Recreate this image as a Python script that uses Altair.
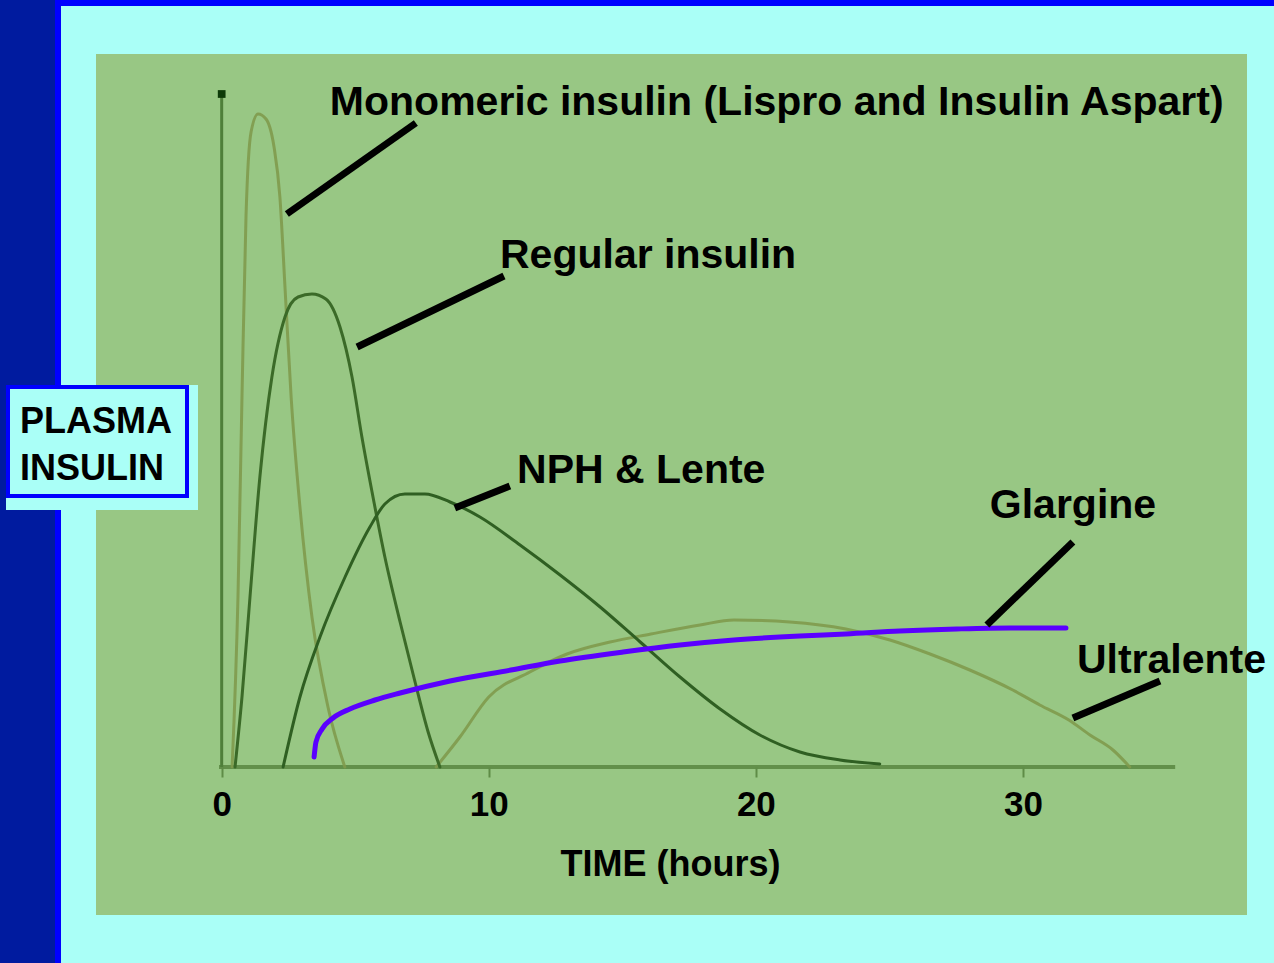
import altair as alt
import pandas as pd

FONT = "'Liberation Sans', Arial, sans-serif"

# ---- curve data: time (hours) and plasma insulin level (arbitrary units) ----
mono_hours = [0.39, 0.61, 0.76, 0.91, 1.10, 1.36, 1.66, 1.96, 2.18, 2.37, 2.60, 2.93, 3.38, 3.98, 4.61]
mono_level = [0, 170, 370, 550, 635, 653, 648, 620, 570, 480, 370, 260, 150, 60, 0]

regular_hours = [0.50, 0.76, 1.06, 1.43, 1.88, 2.37, 2.86, 3.38, 3.90, 4.43, 4.88, 5.25, 5.63,
                 6.11, 6.68, 7.24, 7.73, 8.17]
regular_level = [0, 70, 170, 290, 390, 450, 470, 473, 468, 440, 390, 330, 275, 210, 145, 85, 35, 0]

nph_hours = [2.30, 2.93, 3.68, 4.62, 5.55, 6.11, 6.86, 7.61, 8.55, 9.67, 11.17, 12.67, 14.17,
             15.67, 17.16, 18.66, 20.15, 21.65, 23.15, 24.64]
nph_level = [0, 70, 130, 190, 240, 263, 273, 273, 265, 250, 222, 192, 160, 125, 90, 58, 32, 15, 7, 3]

ultra_hours = [8.03, 8.92, 10.00, 11.54, 12.93, 14.54, 16.07, 17.91, 19.18, 21.27, 23.37, 25.02,
               26.52, 28.01, 29.62, 30.63, 31.72, 32.51, 33.37, 34.0]
ultra_level = [0, 30, 70, 95, 113, 125, 133, 142, 147, 145, 138, 127, 113, 97, 77, 62, 47, 32, 17, 0]

glargine_hours = [3.46, 3.53, 3.76, 4.17, 4.80, 5.74, 6.68, 8.55, 10.83, 12.67, 15.03, 17.16,
                  19.18, 21.65, 23.37, 25.39, 27.52, 29.52, 31.61]
glargine_level = [10, 25, 38, 49, 58, 67, 74, 86, 97, 106, 115, 122, 127, 131, 133, 136, 138, 139, 139]

# original graph's axes (time axis from 0 to ~35.7 h, level axis from 0 to ~673)
axis_hours = [-0.1, 35.7]
axis_level = [0, 673]
tick_values = [0, 10, 20, 30]

# annotations
label_text = ["Monomeric insulin (Lispro and Insulin Aspart)", "Regular insulin",
              "NPH & Lente", "Glargine", "Ultralente"]
label_hours = [4.05, 10.42, 11.06, 28.76, 32.02]
label_level = [652, 499, 284, 249, 94]
ptr_hours1 = [2.44, 5.07, 8.73, 28.65, 31.87]
ptr_level1 = [553, 420, 259, 142, 49]
ptr_hours2 = [7.27, 10.57, 10.79, 31.87, 35.13]
ptr_level2 = [644, 491, 281, 225, 86]

ylabel_lines = ["PLASMA", "INSULIN"]

# ---- scales / encodings ----
xscale = alt.Scale(domain=[-8.3, 39.4], nice=False, zero=False)
yscale = alt.Scale(domain=[0, 767], nice=False, zero=False)
xaxis = alt.Axis(values=tick_values, domain=False, grid=False, ticks=True, tickSize=10,
                 tickColor="#5f8c47", tickWidth=2, labelFont=FONT, labelFontSize=35,
                 labelFontWeight="bold", labelColor="black", labelBaseline="alphabetic",
                 labelPadding=38, labelFlush=False, labelOverlap=False,
                 title="TIME (hours)", titleFont=FONT, titleFontSize=36, titleFontWeight="bold",
                 titleColor="black", titleX=670, titleY=108, titleBaseline="alphabetic",
                 titleAlign="center", titleAnchor="start", zindex=2)


def X(f):
    return alt.X(f, type="quantitative", scale=xscale, axis=xaxis)


def X2(f):
    return alt.X2(f)


def Y(f):
    return alt.Y(f, type="quantitative", scale=yscale, axis=None)


one = pd.DataFrame({"d": [0]})


def box(x0, x1, y0, y1, color, **kw):
    return alt.Chart(one).mark_rect(color=color, **kw).encode(
        x=alt.value(x0), x2=alt.value(x1), y=alt.value(y0), y2=alt.value(y1))


decor = [
    box(0, 55, 0, 963, "#001B9F"),
    box(55, 1274, 0, 6, "#0000FF"),
    box(55, 61, 0, 963, "#0000FF"),
    box(96, 1247, 54, 915, "#98C784"),
]


def curve(hours, level, color, width, opacity=1.0):
    df = pd.DataFrame({"h": hours, "v": level})
    return alt.Chart(df).mark_line(color=color, strokeWidth=width, interpolate="monotone",
                                   opacity=opacity, strokeCap="round").encode(x=X("h"), y=Y("v"))


base_df = pd.DataFrame({"h": axis_hours, "v": [0, 0]})
baseline = alt.Chart(base_df).mark_line(color="#62904a", strokeWidth=4).encode(x=X("h"), y=Y("v"))
yline_df = pd.DataFrame({"h": [0, 0], "v": axis_level})
yline = alt.Chart(yline_df).mark_line(color="#4f7f3a", strokeWidth=3).encode(x=X("h"), y=Y("v"))
ydot = alt.Chart(pd.DataFrame({"h": [0], "v": [axis_level[1]]})).mark_square(
    color="#0d3a08", size=60, opacity=1).encode(x=X("h"), y=Y("v"))

curves = [
    curve(mono_hours, mono_level, "#7f9a4c", 3, 0.9),
    curve(ultra_hours, ultra_level, "#7f9a4c", 3, 0.9),
    curve(regular_hours, regular_level, "#3b6a28", 3),
    curve(nph_hours, nph_level, "#2f5f22", 3),
    curve(glargine_hours, glargine_level, "#5A00FF", 5),
]

ptr_df = pd.DataFrame({"h1": ptr_hours1, "v1": ptr_level1, "h2": ptr_hours2, "v2": ptr_level2})
pointers = alt.Chart(ptr_df).mark_rule(color="black", strokeWidth=7).encode(
    x=X("h1"), y=Y("v1"), x2=X2("h2"), y2=alt.Y2("v2"))

lab_df = pd.DataFrame({"t": label_text, "h": label_hours, "v": label_level})
labels = alt.Chart(lab_df).mark_text(font=FONT, fontSize=41, fontWeight="bold", color="black",
                                     align="left", baseline="alphabetic").encode(
    x=X("h"), y=Y("v"), text="t:N")

ylab_box = [
    box(6, 198, 385, 510, "#AAFFF7"),
    box(8, 187, 387, 496, "#AAFFF7", stroke="#0000FF", strokeWidth=4),
]


def ylab(txt, ypix):
    return alt.Chart(pd.DataFrame({"t": [txt]})).mark_text(
        font=FONT, fontSize=36, fontWeight="bold", color="black", align="left",
        baseline="alphabetic").encode(x=alt.value(20), y=alt.value(ypix), text="t:N")


ylab_texts = [ylab(ylabel_lines[0], 433), ylab(ylabel_lines[1], 480)]

chart = alt.layer(
    *decor, baseline, yline, ydot, *curves, pointers, labels, *ylab_box, *ylab_texts
).properties(
    width=1274, height=767,
    padding={"left": 0, "top": 0, "right": 0, "bottom": 196},
    autosize=alt.AutoSizeParams(type="none"),
    background="#AAFFF7",
).configure_view(stroke=None)

chart.save("out.html", embed_options={"renderer": "svg", "actions": False})
